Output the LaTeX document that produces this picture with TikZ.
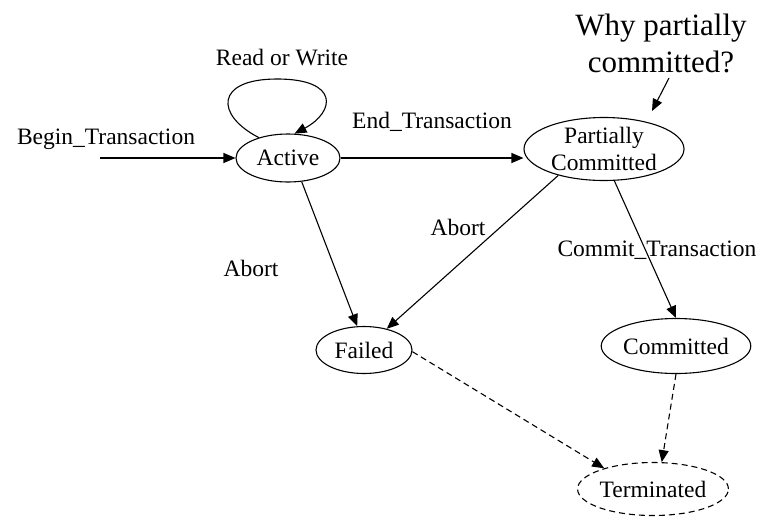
\documentclass[tikz,border=0pt]{standalone}
\usepackage{fontspec}
\setmainfont{Liberation Serif}
\usetikzlibrary{shapes.geometric,arrows.meta}
\begin{document}
\begin{tikzpicture}[x=1pt,y=-1pt,
  state/.style={draw,ellipse,inner sep=0pt,line width=1.1pt,align=center,
    font=\fontsize{23.5}{27}\selectfont},
  lbl/.style={inner sep=0pt,font=\fontsize{23.5}{27}\selectfont},
  trans/.style={line width=1.1pt,-{Triangle[length=12pt,width=10pt]}},
  dashtrans/.style={trans,dash pattern=on 6pt off 4pt}]
  \useasboundingbox (0,0) rectangle (767,517);

  % states
  \node[state,minimum width=104pt,minimum height=48pt] (active) at (288,158) {Active};
  \node[state,minimum width=160pt,minimum height=63pt] (pc) at (604,149) {Partially\\Committed};
  \node[state,minimum width=96pt,minimum height=47pt] (failed) at (364,350) {Failed};
  \node[state,minimum width=144pt,minimum height=55pt] (committed) at (676,346) {Committed};
  \node[state,minimum width=144pt,minimum height=53pt,dash pattern=on 6pt off 4pt] (terminated) at (653,489) {Terminated};

  % free ends
  \coordinate (begin) at (100,158);
  \coordinate (whyfrom) at (669,78);
  \coordinate (whyto) at (652,111);

  % transitions
  \draw[trans] (begin) -- (active.west);
  \draw[trans] (active.145) .. controls (215,115) and (215,79) .. (277,79)
                            .. controls (340,79) and (335,112) .. (active.75);
  \draw[trans] (active.east) -- (active.east -| pc.west);
  \draw[trans] (active.300) -- (failed.106);
  \draw[trans] (pc.210) -- (failed.43);
  \draw[trans] (pc.288) -- (committed.north);
  \draw[dashtrans] (failed.358) -- (terminated.157);
  \draw[dashtrans] (committed.south) -- (terminated.72);
  \draw[trans] (whyfrom) -- (whyto);

  % labels
  \node[lbl] (lbegin) at (106,139) {Begin\_Transaction};
  \node[lbl] (lrw) at (282,58) {Read or Write};
  \node[lbl] (lend) at (432,122) {End\_Transaction};
  \node[lbl] (labort1) at (251,268) {Abort};
  \node[lbl] (labort2) at (458,227) {Abort};
  \node[lbl] (lcommit) at (657,250) {Commit\_Transaction};
  \node[inner sep=0pt,align=center,font=\fontsize{31}{37}\selectfont] (why) at (661,43)
    {Why partially\\committed?};
\end{tikzpicture}
\end{document}
